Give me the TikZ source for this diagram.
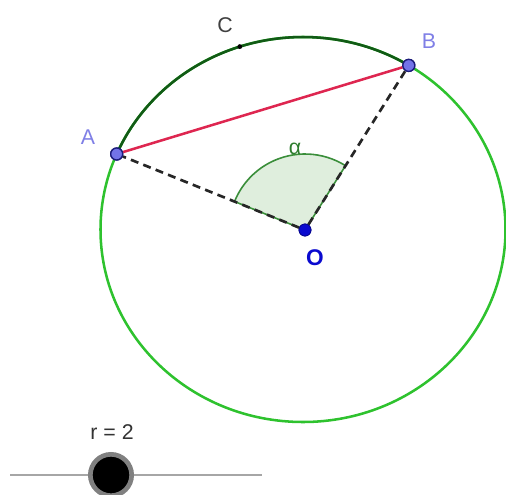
\documentclass[tikz,border=0pt]{standalone}
\usepackage{fontspec}
\setmainfont{Liberation Sans}
\begin{document}
\begin{tikzpicture}[x=0.75pt,y=0.75pt,
  lbl/.style={font=\fontsize{16}{18}\selectfont, inner sep=0pt},
  ptlbl/.style={lbl, text=ptblue},
  freept/.style={circle, draw=ptedge, fill=ptfill, line width=1pt, minimum size=9pt, inner sep=0pt},
  centpt/.style={circle, fill=centblue, draw=centblue!70!black, line width=0.6pt, minimum size=9pt, inner sep=0pt},
  arcpt/.style={circle, fill=black, minimum size=3.6pt, inner sep=0pt},
  radiusline/.style={line width=2pt, dash pattern=on 6pt off 4pt, black!85},
  chord/.style={line width=1.9pt, draw=chordred},
  circ/.style={line width=1.9pt, draw=circgreen},
  darkarc/.style={line width=1.9pt, draw=arcgreen},
  sector/.style={fill=sectfill, draw=sectedge, line width=1.2pt}]
\definecolor{ptblue}{HTML}{7F7FE6}
\definecolor{ptedge}{HTML}{1C1C7A}
\definecolor{ptfill}{HTML}{7373E8}
\definecolor{centblue}{HTML}{0A0ACF}
\definecolor{chordred}{HTML}{DE2650}
\definecolor{circgreen}{HTML}{2EC22E}
\definecolor{arcgreen}{HTML}{125A16}
\definecolor{sectfill}{HTML}{DFEEDD}
\definecolor{sectedge}{HTML}{3A8E3A}
\definecolor{alphagreen}{HTML}{2E7D2E}
\definecolor{slidergray}{HTML}{A6A6A6}
\useasboundingbox (0,0) rectangle (506,494);
% geometry
\coordinate (Ctr) at (303,264.5);
\coordinate (Apos) at (116.7,340.0);
\coordinate (Bpos) at (408.8,428.6);
\coordinate (Cpos) at (239.8,447.4);
\coordinate (Opos) at (305,264);
% circle
\draw[circ] (Ctr) ellipse [x radius=151.875pt, y radius=144.375pt];
% arc ACB
\draw[darkarc] (Bpos) arc [start angle=58.5, end angle=156.9, x radius=151.875pt, y radius=144.375pt];
% angle sector
\draw[sector] (Opos) -- ++(57.8:57pt) arc [start angle=57.8, end angle=158.0, radius=57pt] -- cycle;
% points
\node[freept] (A) at (Apos) {};
\node[freept] (B) at (Bpos) {};
\node[centpt] (O) at (Opos) {};
\node[arcpt] (C) at (Cpos) {};
% segments
\draw[radiusline] (O) -- (A);
\draw[radiusline] (O) -- (B);
\draw[chord] (A) -- (B);
% redraw points on top
\node[freept] at (Apos) {};
\node[freept] at (Bpos) {};
\node[centpt] at (Opos) {};
% labels
\node[ptlbl] (Alab) at (88,357) {A};
\node[ptlbl] (Blab) at (429,453) {B};
\node[lbl, text=black!75] (Clab) at (225,469) {C};
\node[lbl, text=alphagreen] (alab) at (295,345) {α};
\node[lbl, text=centblue, font=\fontsize{17}{19}\selectfont\bfseries] (Olab) at (315,236) {O};
% slider
\coordinate (sl) at (10,19);
\coordinate (sr) at (262,19);
\draw[slidergray, line width=2pt] (sl) -- (sr);
\node[circle, fill=black, draw=black!50, line width=3.5pt, minimum size=31pt, inner sep=0pt] (knob) at (111,19) {};
\node[lbl, text=black!80] (rlab) at (112,62) {r = 2};
\end{tikzpicture}
\end{document}
